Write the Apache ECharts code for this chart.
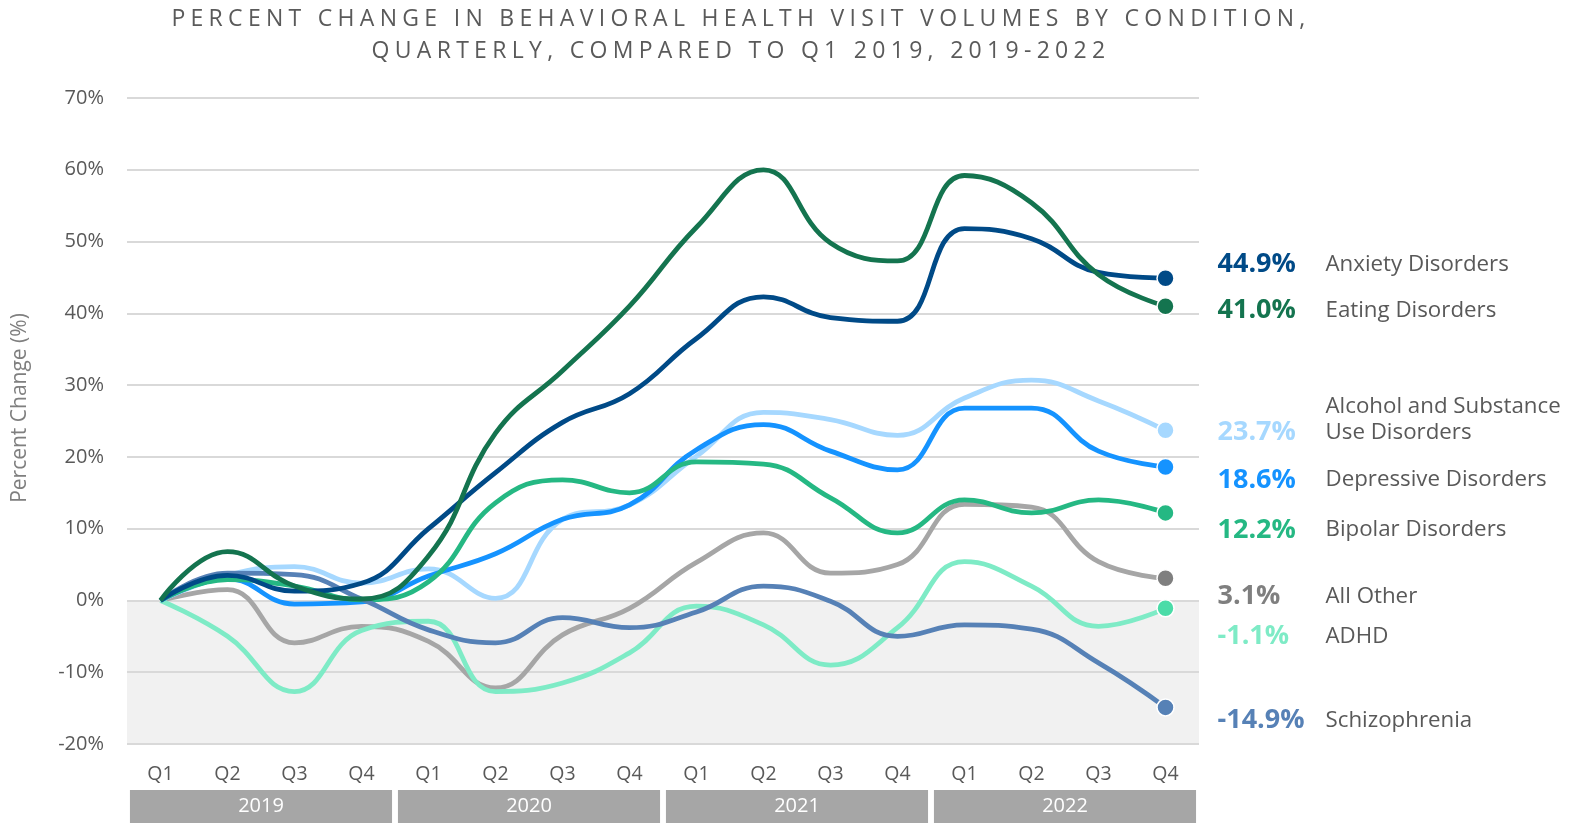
<!DOCTYPE html>
<html style="height: 100%">
  <head>
    <meta charset="utf-8">
    <style>
      body { margin: 0; background: #fff; }
      #container { position: absolute; left: 0; top: 0; width: 1587px; height: 823px; }
      #title {
        position: absolute; left: 0; top: 1px; width: 1482px;
        text-align: center; font-family: "Open Sans", sans-serif; font-size: 23px;
        line-height: 32px; letter-spacing: 5.3px; color: #5a5a5a; z-index: 2;
      }
    </style>
  </head>
  <body>
    <div id="container"></div>
    <div id="title">PERCENT CHANGE IN BEHAVIORAL HEALTH VISIT VOLUMES BY CONDITION,<br>QUARTERLY, COMPARED TO Q1 2019, 2019-2022</div>
    <script src="https://cdn.jsdelivr.net/npm/echarts@6/dist/echarts.min.js"></script>
    <script type="text/javascript">
// quarters and years on the x axis
var quarters = ['Q1','Q2','Q3','Q4','Q1','Q2','Q3','Q4','Q1','Q2','Q3','Q4','Q1','Q2','Q3','Q4'];
var years = ['2019', '2020', '2021', '2022'];
var yearBand = [1, 1, 1, 1];

// percent change vs Q1 2019
var allOther   = [0, 1.5, -5.9, -3.6, -5.7, -12.2, -4.8, -1.1, 5.3, 9.4, 3.8, 5.0, 13.4, 13.0, 5.4, 3.1];
var adhd       = [0, -5.0, -12.7, -4.2, -2.9, -12.7, -11.5, -7.3, -0.8, -3.4, -9.0, -3.8, 5.4, 2.0, -3.6, -1.1];
var alcohol    = [0, 3.5, 4.7, 2.4, 4.4, 0.3, 11.3, 13.3, 20.1, 26.2, 25.2, 23.0, 28.2, 30.7, 27.8, 23.7];
var depressive = [0, 3.0, -0.5, -0.2, 3.4, 6.5, 11.3, 13.3, 21.0, 24.5, 20.8, 18.2, 26.8, 26.8, 20.8, 18.6];
var bipolar    = [0, 2.9, 2.0, 0.1, 2.6, 13.6, 16.8, 15.0, 19.3, 19.0, 14.3, 9.4, 14.0, 12.2, 14.0, 12.2];
var schizo     = [0, 3.8, 3.6, 0.2, -4.1, -5.9, -2.4, -3.8, -1.6, 2.0, -0.1, -5.0, -3.4, -4.0, -8.7, -14.9];
var anxiety    = [0, 3.5, 1.3, 2.4, 10.0, 17.8, 24.8, 28.8, 36.5, 42.3, 39.4, 38.9, 51.8, 50.4, 45.7, 44.9];
var eating     = [0, 6.8, 2.0, 0.2, 6.2, 23.3, 32.0, 41.0, 52.0, 60.0, 49.8, 47.3, 59.2, 55.4, 45.4, 41.0];

var seriesNames = ['All Other', 'ADHD', 'Alcohol and Substance\nUse Disorders', 'Depressive Disorders',
                   'Bipolar Disorders', 'Schizophrenia', 'Anxiety Disorders', 'Eating Disorders'];
var seriesData = [allOther, adhd, alcohol, depressive, bipolar, schizo, anxiety, eating];

// styles
var lineColors  = ['#a6a6a6', '#7eebc6', '#a6d8ff', '#1593ff', '#25b883', '#5681b6', '#004a87', '#14744f'];
var dotColors   = ['#7f7f7f', '#4bdca8', '#a6d8ff', '#1593ff', '#25b883', '#5681b6', '#004a87', '#14744f'];
var valueColors = ['#7f7f7f', '#7eebc6', '#a6d8ff', '#1593ff', '#25b883', '#5681b6', '#004a87', '#14744f'];
var labelDy     = [18, 28, -11, 13, 17, 13, -14, 4];

var FONT = '"Open Sans", sans-serif';
var myChart = echarts.init(document.getElementById('container'));

var series = [{
  // grey band below zero
  type: 'line', data: [], z: 1, silent: true,
  markArea: {
    silent: true,
    itemStyle: { color: '#f1f1f1' },
    data: [[{ yAxis: 0 }, { yAxis: -20 }]]
  }
}];

seriesData.forEach(function (d, k) {
  series.push({
    name: seriesNames[k],
    type: 'line',
    z: 3 + k,
    data: d,
    smooth: 0.45,
    symbol: 'circle',
    showSymbol: true,
    showAllSymbol: true,
    symbolSize: function (v, p) { return p.dataIndex === d.length - 1 ? 17 : 0; },
    lineStyle: { color: lineColors[k], width: 4.8 },
    itemStyle: { color: dotColors[k], borderColor: '#fff', borderWidth: 1.5 },
    emphasis: { disabled: true },
    endLabel: {
      show: true,
      distance: 52,
      offset: [0, labelDy[k]],
      formatter: function (p) {
        var val = d[d.length - 1].toFixed(1) + '%';
        var parts = p.seriesName.split('\n');
        if (parts.length > 1) {
          return '{sp|}{n|' + parts[0] + '}\n{v|' + val + '}{n|' + parts[1] + '}';
        }
        return '{v|' + val + '}{n|' + parts[0] + '}';
      },
      rich: {
        v: { fontFamily: FONT, fontSize: 27, fontWeight: 'bold', color: valueColors[k], width: 108, lineHeight: 26 },
        sp: { width: 108, lineHeight: 26 },
        n: { fontFamily: FONT, fontSize: 22.3, color: '#595959', lineHeight: 26 }
      }
    }
  });
});

series.push({
  type: 'bar',
  xAxisIndex: 1,
  yAxisIndex: 1,
  data: yearBand,
  barCategoryGap: '2.2%',
  silent: true,
  itemStyle: { color: '#a6a6a6' },
  label: {
    show: true, position: 'inside', color: '#fff', fontFamily: FONT, fontSize: 20,
    formatter: function (p) { return p.name; }
  }
});

var option = {
  animation: false,
  grid: [
    { left: 127, right: 388, top: 98, bottom: 79, outerBoundsMode: 'none' },
    { left: 127, right: 388, top: 790, height: 33, outerBoundsMode: 'none' }
  ],
  xAxis: [{
    type: 'category',
    data: quarters,
    boundaryGap: true,
    axisLine: { show: false },
    axisTick: { show: false },
    axisLabel: { color: '#595959', fontFamily: FONT, fontSize: 19.5, margin: 20 }
  }, {
    type: 'category',
    gridIndex: 1,
    data: years,
    axisLine: { show: false },
    axisTick: { show: false },
    axisLabel: { show: false }
  }],
  yAxis: [{
    type: 'value',
    min: -20, max: 70, interval: 10,
    z: 2,
    name: 'Percent Change (%)',
    nameLocation: 'middle',
    nameRotate: 90,
    nameGap: 96,
    nameTextStyle: { color: '#7f7f7f', fontFamily: FONT, fontSize: 21, padding: [0, 0, 0, 26] },
    axisLabel: { color: '#595959', fontFamily: FONT, fontSize: 20, margin: 23, formatter: '{value}%' },
    splitLine: { lineStyle: { color: '#d9d9d9', width: 2 } }
  }, {
    type: 'value',
    gridIndex: 1,
    min: 0, max: 1,
    show: false
  }],
  series: series
};
myChart.setOption(option);
    </script>
  </body>
</html>
